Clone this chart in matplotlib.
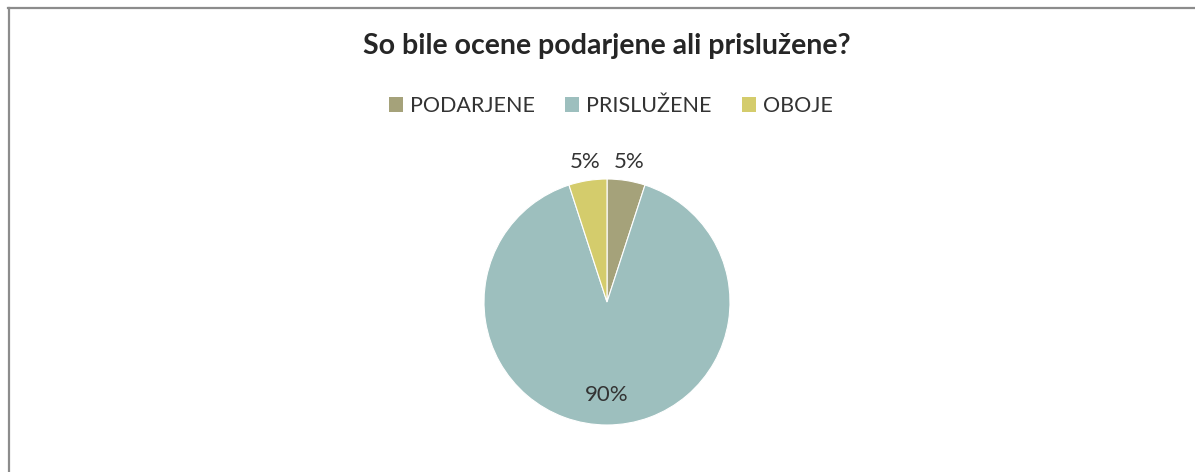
import matplotlib.pyplot as plt
import numpy as np
from matplotlib.lines import Line2D

# Podatki
kategorije = ["PODARJENE", "PRISLUŽENE", "OBOJE"]
deleži = [5, 90, 5]
barve = ["#A5A27A", "#9DBFBE", "#D4CC6C"]
naslov = "So bile ocene podarjene ali prislužene?"

plt.rcParams["font.family"] = ["Lato", "DejaVu Sans"]
BESEDILO = "#333333"

W, H = 1195, 472
fig = plt.figure(figsize=(W / 100, H / 100), dpi=100)
fig.patch.set_facecolor("white")

# okvir (samo levo in zgoraj je vidno)
fig.add_artist(Line2D([8.5 / W, 8.5 / W], [0, 1 - 7.5 / H], color="#8C8C8C", lw=1.6,
                      transform=fig.transFigure))
fig.add_artist(Line2D([7.7 / W, 1], [1 - 7.5 / H, 1 - 7.5 / H], color="#8C8C8C", lw=1.6,
                      transform=fig.transFigure))

cx, cy, r = 607, 302, 123
ax = fig.add_axes([(cx - r) / W, (H - cy - r) / H, 2 * r / W, 2 * r / H])
klini, _ = ax.pie(deleži, colors=barve, startangle=90, counterclock=False,
                  wedgeprops=dict(edgecolor="white", linewidth=0.8))
ax.set_xlim(-1, 1)
ax.set_ylim(-1, 1)
ax.set_aspect("equal")
ax.axis("off")

# oznake odstotkov
razdalje = [1.15, 0.76, 1.15]
for klin, vrednost, d in zip(klini, deleži, razdalje):
    kot = np.deg2rad((klin.theta1 + klin.theta2) / 2)
    ax.text(d * np.cos(kot), d * np.sin(kot), f"{vrednost}%", ha="center", va="center",
            fontsize=16, color=BESEDILO, clip_on=False)

fig.text(607 / W, 1 - 46 / H, naslov, ha="center", va="center", fontsize=20.5,
         fontweight="bold", color="#262626")

leg = fig.legend(klini, kategorije, loc="center", bbox_to_anchor=(611 / W, 1 - 106 / H),
                 ncol=3, frameon=False, fontsize=15.5, handlelength=0.65, handleheight=0.65,
                 handletextpad=0.33, columnspacing=1.4)
for t in leg.get_texts():
    t.set_color(BESEDILO)
for h in leg.legend_handles:
    h.set_edgecolor("none")

fig.savefig("out.png", dpi=100)
